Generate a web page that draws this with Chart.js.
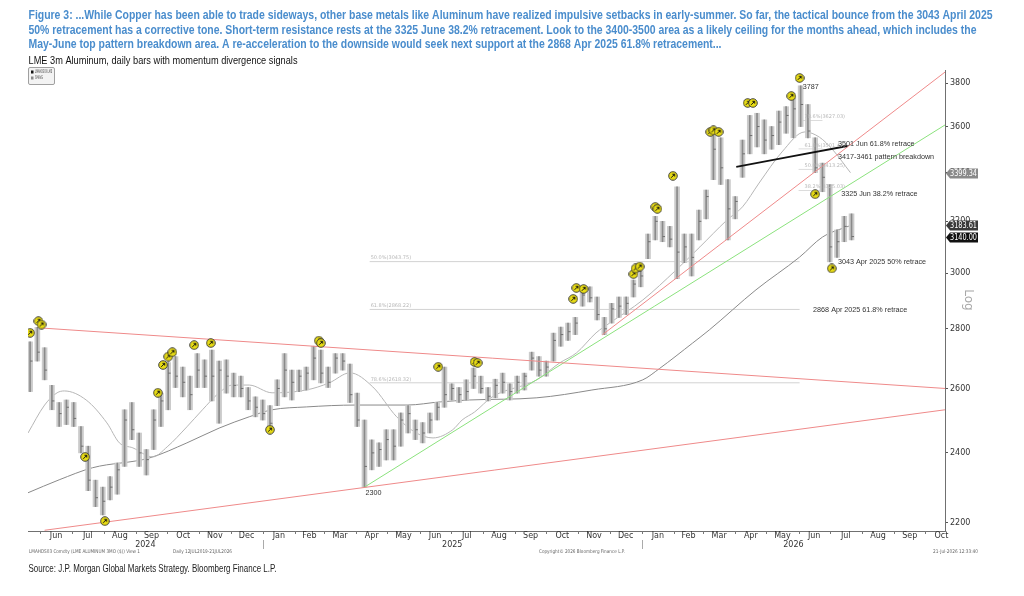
<!DOCTYPE html>
<html>
<head>
<meta charset="utf-8">
<script src="https://cdn.jsdelivr.net/npm/chart.js@4.4.1/dist/chart.umd.min.js"></script>
<style>
  html, body { margin: 0; padding: 0; background: #fff; overflow: hidden; }
  #wrap { position: relative; width: 1024px; height: 596px; }
</style>
</head>
<body>
<div id="wrap"><canvas id="chart"></canvas></div>
<script>
// weekly bars (week starting Monday)
const weekStarts = [
  '2024-05-20','2024-05-27','2024-06-03','2024-06-10','2024-06-17','2024-06-24','2024-07-01','2024-07-08','2024-07-15','2024-07-22',
  '2024-07-29','2024-08-05','2024-08-12','2024-08-19','2024-08-26','2024-09-02','2024-09-09','2024-09-16','2024-09-23','2024-09-30',
  '2024-10-07','2024-10-14','2024-10-21','2024-10-28','2024-11-04','2024-11-11','2024-11-18','2024-11-25','2024-12-02','2024-12-09',
  '2024-12-16','2024-12-23','2024-12-30','2025-01-06','2025-01-13','2025-01-20','2025-01-27','2025-02-03','2025-02-10','2025-02-17',
  '2025-02-24','2025-03-03','2025-03-10','2025-03-17','2025-03-24','2025-03-31','2025-04-07','2025-04-14','2025-04-21','2025-04-28',
  '2025-05-05','2025-05-12','2025-05-19','2025-05-26','2025-06-02','2025-06-09','2025-06-16','2025-06-23','2025-06-30','2025-07-07',
  '2025-07-14','2025-07-21','2025-07-28','2025-08-04','2025-08-11','2025-08-18','2025-08-25','2025-09-01','2025-09-08','2025-09-15',
  '2025-09-22','2025-09-29','2025-10-06','2025-10-13','2025-10-20','2025-10-27','2025-11-03','2025-11-10','2025-11-17','2025-11-24',
  '2025-12-01','2025-12-08','2025-12-15','2025-12-22','2025-12-29','2026-01-05','2026-01-12','2026-01-19','2026-01-26','2026-02-02',
  '2026-02-09','2026-02-16','2026-02-23','2026-03-02','2026-03-09','2026-03-16','2026-03-23','2026-03-30','2026-04-06','2026-04-13',
  '2026-04-20','2026-04-27','2026-05-04','2026-05-11','2026-05-18','2026-05-25','2026-06-01','2026-06-08','2026-06-15','2026-06-22',
  '2026-06-29','2026-07-06','2026-07-13','2026-07-20'
];
const highs = [
  2755,2805,2735,2610,2555,2563,2555,2480,2420,2320,
  2300,2330,2370,2532,2555,2460,2410,2532,2585,2685,
  2705,2670,2640,2715,2694,2727,2690,2694,2650,2640,
  2603,2573,2563,2545,2628,2715,2660,2660,2670,2740,
  2727,2670,2715,2715,2680,2585,2500,2439,2430,2470,
  2470,2522,2545,2500,2492,2522,2555,2670,2615,2603,
  2628,2667,2640,2603,2630,2650,2615,2640,2650,2720,
  2705,2690,2785,2806,2820,2840,2950,2950,2913,2840,
  2890,2913,2913,2975,3010,3150,3220,3200,3180,3340,
  3150,3150,3245,3327,3570,3550,3370,3300,3540,3650,
  3660,3630,3600,3670,3690,3740,3787,3700,3550,3440,
  3350,3166,3220,3230
];
const lows = [
  2590,2690,2628,2532,2480,2486,2480,2400,2290,2245,
  2222,2264,2280,2360,2440,2360,2335,2410,2480,2532,
  2603,2573,2532,2603,2603,2560,2490,2585,2573,2573,
  2532,2510,2500,2470,2545,2573,2563,2590,2595,2628,
  2618,2603,2650,2660,2555,2480,2300,2350,2360,2379,
  2379,2420,2460,2440,2430,2460,2500,2540,2563,2555,
  2563,2600,2585,2560,2570,2585,2563,2585,2595,2660,
  2640,2640,2690,2740,2760,2780,2880,2895,2831,2780,
  2820,2840,2850,2913,2950,3055,3127,3120,3100,2980,
  3040,2990,3127,3210,3370,3350,3127,3210,3380,3480,
  3510,3480,3500,3520,3570,3550,3600,3550,3400,3320,
  3043,3060,3120,3127
];
const closes = [
  2690,2720,2660,2560,2520,2540,2505,2420,2320,2270,
  2260,2300,2350,2500,2470,2400,2380,2500,2560,2650,
  2640,2620,2580,2660,2640,2640,2660,2640,2610,2600,
  2560,2540,2520,2490,2600,2660,2620,2640,2650,2700,
  2650,2620,2700,2690,2580,2500,2360,2400,2410,2440,
  2420,2500,2520,2470,2460,2500,2540,2580,2600,2580,
  2590,2640,2600,2575,2610,2620,2590,2620,2640,2700,
  2660,2670,2760,2780,2790,2820,2920,2910,2850,2800,
  2870,2880,2890,2960,2990,3120,3200,3140,3130,3080,
  3100,3060,3200,3300,3500,3420,3250,3280,3480,3560,
  3600,3540,3560,3620,3650,3680,3700,3580,3420,3380,
  3100,3120,3180,3140.00
];

// moving averages (light = 50d, dark = 200d)
const sma50Dates = [
  '2024-05-20','2024-06-05','2024-06-17','2024-06-24','2024-07-15','2024-08-04','2024-08-16','2024-08-29','2024-09-17','2024-10-01',
  '2024-10-20','2024-11-04','2024-11-20','2024-12-03','2024-12-19','2025-01-10','2025-02-12','2025-03-06','2025-03-26','2025-04-17',
  '2025-05-10','2025-05-29','2025-06-14','2025-07-03','2025-07-12','2025-07-24','2025-08-10','2025-09-22','2025-10-14','2025-10-30',
  '2025-11-18','2025-12-01','2026-01-02','2026-02-03','2026-02-26','2026-03-24','2026-04-08','2026-04-24','2026-05-16','2026-06-07',
  '2026-06-21','2026-07-04','2026-07-21'
];
const sma50Values = [
  2460,2547,2586,2592,2563,2491,2430,2415,2388,2418,
  2479,2532,2586,2611,2611,2586,2595,2618,2651,2605,
  2510,2460,2445,2470,2500,2525,2573,2628,2684,2717,
  2786,2820,2902,3012,3100,3205,3258,3356,3488,3576,
  3553,3497,3399.34
];
const sma200Dates = [
  '2024-05-20','2024-06-19','2024-07-21','2024-09-14','2024-10-20','2024-11-20','2024-12-19','2025-01-10','2025-02-12','2025-04-01',
  '2025-05-20','2025-06-21','2025-07-19','2025-09-22','2025-11-14','2026-01-02','2026-01-18','2026-02-19','2026-03-07','2026-04-21',
  '2026-06-02','2026-06-24','2026-07-21'
];
const sma200Values = [
  2284,2321,2356,2385,2430,2475,2510,2532,2541,2547,
  2547,2557,2563,2570,2595,2628,2665,2751,2796,2939,
  3061,3138,3183.61
];

// momentum divergence signals
const markerDates = [
  '2024-05-22','2024-05-30','2024-06-02','2024-07-14','2024-08-02','2024-09-22','2024-09-27','2024-10-02','2024-10-06','2024-10-27',
  '2024-11-12','2025-01-08','2025-02-24','2025-02-26','2025-06-19','2025-07-24','2025-07-27','2025-10-27','2025-10-30','2025-11-06',
  '2025-12-24','2025-12-26','2025-12-30','2026-01-14','2026-01-16','2026-01-31','2026-03-08','2026-03-11','2026-03-16','2026-04-13',
  '2026-04-18','2026-05-25','2026-06-02','2026-06-17','2026-07-03'
];
const markerPrices = [
  2786,2827,2815,2388,2205,2586,2677,2705,2720,2744,
  2751,2470,2759,2751,2671,2687,2684,2906,2946,2942,
  2997,3018,3025,3258,3250,3386,3576,3583,3576,3707,
  3707,3739,3824,3310,3018
];

// trend lines
const supportDates = ['2024-06-05', '2026-10-20'];
const supportPrices = [2180, 2532];
const resistDates = ['2024-06-01', '2026-10-20'];
const resistPrices = [2803, 2600];
const steepDates = ['2025-11-24', '2026-10-20'];
const steepPrices = [2779, 3852];
const greenDates = ['2025-04-09', '2026-10-20'];
const greenPrices = [2300, 3607];
const neckDates = ['2026-04-02', '2026-07-18'];
const neckPrices = [3424, 3514];

// fibonacci retracements
const fibLowDates = ['2025-04-14', '2026-06-02'];
const fibLowLevels = [3043.75, 2868.22, 2618.32];
const fibLowLabels = ['50.0%(3043.75)', '61.8%(2868.22)', '78.6%(2618.32)'];
const fibHighDates = ['2026-06-01', '2026-06-24'];
const fibHighLevels = [3627.03, 3501.47, 3413.25, 3325.03];
const fibHighLabels = ['78.6%(3627.03)', '61.8%(3501.47)', '50.0%(3413.25)', '38.2%(3325.03)'];

// text notes on the chart
const noteTexts = ['3787', '3501 Jun 61.8% retrace', '3417-3461 pattern breakdown', '3325 Jun 38.2% retrace',
  '3043 Apr 2025 50% retrace', '2868 Apr 2025 61.8% retrace', '2300'];
const noteDates = ['2026-06-05', '2026-07-09', '2026-07-09', '2026-07-12', '2026-07-09', '2026-06-15', '2025-04-10'];
const notePrices = [3781, 3523, 3467, 3310, 3043, 2868, 2284];

// axes
const monthStarts = [
  '2024-06-01','2024-07-01','2024-08-01','2024-09-01','2024-10-01','2024-11-01','2024-12-01',
  '2025-01-01','2025-02-01','2025-03-01','2025-04-01','2025-05-01','2025-06-01','2025-07-01','2025-08-01','2025-09-01','2025-10-01','2025-11-01','2025-12-01',
  '2026-01-01','2026-02-01','2026-03-01','2026-04-01','2026-05-01','2026-06-01','2026-07-01','2026-08-01','2026-09-01','2026-10-01','2026-11-01'
];
const monthLabels = ['Jun','Jul','Aug','Sep','Oct','Nov','Dec','Jan','Feb','Mar','Apr','May','Jun','Jul','Aug','Sep','Oct','Nov','Dec',
  'Jan','Feb','Mar','Apr','May','Jun','Jul','Aug','Sep','Oct'];
const yearLabels = ['2024', '2025', '2026'];
const yearSplits = ['2025-01-01', '2026-01-01'];
const yTicks = [2200, 2400, 2600, 2800, 3000, 3200, 3400, 3600, 3800];
const xStart = '2024-05-20', xEnd = '2026-10-20';

const dayOf = s => (Date.UTC(+s.slice(0, 4), +s.slice(5, 7) - 1, +s.slice(8, 10)) - Date.UTC(2024, 0, 1)) / 86400000;
const pts = (dates, vals) => dates.map((d, i) => ({ x: dayOf(d), y: vals[i] }));
const monthMids = monthLabels.map((m, i) => (dayOf(monthStarts[i]) + dayOf(monthStarts[i + 1])) / 2);
const barRange = weekStarts.map((d, i) => ({ x: dayOf(d) + 2, y: [lows[i], highs[i]] }));

function makeMarker() {
  const c = document.createElement('canvas');
  c.width = 10; c.height = 10;
  const g = c.getContext('2d');
  g.beginPath(); g.arc(5, 5, 4.3, 0, Math.PI * 2);
  g.fillStyle = '#e8dc14'; g.fill();
  g.lineWidth = 0.9; g.strokeStyle = '#333'; g.stroke();
  g.beginPath();
  g.moveTo(3.2, 6.8); g.lineTo(6.5, 3.5);
  g.moveTo(4.4, 3.3); g.lineTo(6.7, 3.3); g.lineTo(6.7, 5.6);
  g.lineWidth = 1; g.strokeStyle = '#111'; g.stroke();
  return c;
}

function fitText(ctx, text, x, y, w, font, color) {
  ctx.save();
  ctx.font = font; ctx.fillStyle = color;
  ctx.textBaseline = 'middle'; ctx.textAlign = 'left';
  const m = ctx.measureText(text).width;
  ctx.translate(x, y); ctx.scale(w / m, 1);
  ctx.fillText(text, 0, 0);
  ctx.restore();
}

const lineSet = (data, color, width, order) => ({
  type: 'line', data, borderColor: color, borderWidth: width,
  pointRadius: 0, fill: false, order
});

const decor = {
  id: 'decor',
  afterDraw(chart) {
    const ctx = chart.ctx, xs = chart.scales.x, ys = chart.scales.y, a = chart.chartArea;
    ctx.save();

    // title block
    const tf = 'bold 12px "Liberation Sans Narrow", "Liberation Sans", Arial';
    fitText(ctx, 'Figure 3: ...While Copper has been able to trade sideways, other base metals like Aluminum have realized impulsive setbacks in early-summer. So far, the tactical bounce from the 3043 April 2025', 28.5, 15.5, 964, tf, '#4a8dcd');
    fitText(ctx, '50% retracement has a corrective tone. Short-term resistance rests at the 3325 June 38.2% retracement. Look to the 3400-3500 area as a likely ceiling for the months ahead, which includes the', 28.5, 30.5, 948, tf, '#4a8dcd');
    fitText(ctx, 'May-June top pattern breakdown area. A re-acceleration to the downside would seek next support at the 2868 Apr 2025 61.8% retracement...', 28.5, 45, 693, tf, '#4a8dcd');
    fitText(ctx, 'LME 3m Aluminum, daily bars with momentum divergence signals', 28.5, 61.5, 269, '10.5px "Liberation Sans Narrow", "Liberation Sans", Arial', '#111');
    fitText(ctx, 'Source: J.P. Morgan Global Markets Strategy. Bloomberg Finance L.P.', 28.5, 569, 248, '10.5px "Liberation Sans", Arial', '#222');

    // legend box
    ctx.fillStyle = '#f3f3f3'; ctx.strokeStyle = '#a0a0a0'; ctx.lineWidth = 1;
    ctx.beginPath(); ctx.roundRect(28.5, 67.5, 26, 17, 1.5); ctx.fill(); ctx.stroke();
    ctx.fillStyle = '#111'; ctx.fillRect(31, 70.5, 2.5, 3);
    ctx.fillStyle = '#888'; ctx.fillRect(31, 76.5, 2.5, 3);
    fitText(ctx, 'LMAHDS03 LME', 35, 72.2, 17, '5px "DejaVu Sans"', '#444');
    fitText(ctx, 'SMAVG', 35, 78.2, 8, '5px "DejaVu Sans"', '#444');

    // month boundary marks, year split and year labels
    ctx.strokeStyle = '#777'; ctx.lineWidth = 1;
    monthStarts.forEach(d => {
      const px = Math.round(xs.getPixelForValue(dayOf(d))) + 0.5;
      if (px < a.left || px > a.right) return;
      ctx.beginPath(); ctx.moveTo(px, a.bottom); ctx.lineTo(px, a.bottom + 3); ctx.stroke();
    });
    ctx.strokeStyle = '#aaa';
    yearSplits.forEach(d => {
      const px = Math.round(xs.getPixelForValue(dayOf(d))) + 0.5;
      ctx.beginPath(); ctx.moveTo(px, a.bottom + 9); ctx.lineTo(px, a.bottom + 18); ctx.stroke();
    });
    const bounds = [xs.min, ...yearSplits.map(dayOf), xs.max];
    ctx.font = '8px "DejaVu Sans"'; ctx.fillStyle = '#333'; ctx.textAlign = 'center'; ctx.textBaseline = 'middle';
    yearLabels.forEach((y, i) => {
      ctx.fillText(y, xs.getPixelForValue((bounds[i] + bounds[i + 1]) / 2), a.bottom + 14);
    });

    // footer lines
    const ff = '5px "DejaVu Sans"';
    fitText(ctx, 'LMAHDS03 Comdty (LME ALUMINUM 3MO ($)) View 1', 29, 552, 111, ff, '#666');
    fitText(ctx, 'Daily 12JUL2019-21JUL2026', 173, 552, 59, ff, '#666');
    fitText(ctx, 'Copyright\u00A9 2026 Bloomberg Finance L.P.', 539, 552, 86, ff, '#666');
    fitText(ctx, '21-Jul-2026 12:33:40', 933, 552, 45, ff, '#666');

    // fib labels
    ctx.font = '5px "DejaVu Sans"'; ctx.fillStyle = '#b8b8b8'; ctx.textAlign = 'left'; ctx.textBaseline = 'bottom';
    fibLowLevels.forEach((v, i) => ctx.fillText(fibLowLabels[i], xs.getPixelForValue(dayOf(fibLowDates[0])) + 1, ys.getPixelForValue(v) - 1));
    fibHighLevels.forEach((v, i) => ctx.fillText(fibHighLabels[i], xs.getPixelForValue(dayOf(fibHighDates[0])) + 6, ys.getPixelForValue(v) - 1));

    // notes
    ctx.textBaseline = 'middle';
    noteTexts.forEach((t, i) => {
      ctx.save();
      ctx.font = '8px "Liberation Sans", Arial'; ctx.fillStyle = '#333';
      ctx.translate(xs.getPixelForValue(dayOf(noteDates[i])), ys.getPixelForValue(notePrices[i]));
      ctx.scale(0.9, 1);
      ctx.fillText(t, 0, 0);
      ctx.restore();
    });

    // last value tags on the right axis
    const tag = (v, fill) => {
      const py = Math.round(ys.getPixelForValue(v)) + 0.5, x0 = a.right + 1;
      ctx.beginPath();
      ctx.moveTo(x0, py); ctx.lineTo(x0 + 4, py - 5); ctx.lineTo(x0 + 32, py - 5);
      ctx.lineTo(x0 + 32, py + 5); ctx.lineTo(x0 + 4, py + 5); ctx.closePath();
      ctx.fillStyle = fill; ctx.fill();
      fitText(ctx, v.toFixed(2), x0 + 4, py + 0.5, 27, '8px "DejaVu Sans"', '#fff');
    };
    tag(sma50Values[sma50Values.length - 1], '#8a8a8a');
    tag(sma200Values[sma200Values.length - 1], '#3a3a3a');
    tag(closes[closes.length - 1], '#111');

    // Log label
    ctx.save();
    ctx.translate(968, 300); ctx.rotate(Math.PI / 2);
    ctx.font = '12px "DejaVu Sans"'; ctx.fillStyle = '#a8a8a8'; ctx.textAlign = 'center'; ctx.textBaseline = 'middle';
    ctx.fillText('Log', 0, 0);
    ctx.restore();

    ctx.restore();
  }
};

new Chart(document.getElementById('chart'), {
  type: 'bar',
  data: {
    datasets: [
      // light body of each week's range, then a darker stem
      { type: 'bar', data: barRange, backgroundColor: '#cbcbcb', borderWidth: 0, barThickness: 5, grouped: false, order: 7 },
      { type: 'bar', data: barRange, backgroundColor: '#8a8a8a', borderWidth: 0, barThickness: 1, grouped: false, order: 6 },
      { type: 'scatter', data: weekStarts.map((d, i) => ({ x: dayOf(d) + 2, y: closes[i] })),
        pointStyle: 'dash', pointRadius: 2.5, borderColor: '#6f6f6f', borderWidth: 1, order: 5 },
      lineSet(pts(sma50Dates, sma50Values), '#b6b6b6', 1, 8),
      lineSet(pts(sma200Dates, sma200Values), '#8a8a8a', 1, 8),
      ...fibLowLevels.map(v => lineSet(pts(fibLowDates, [v, v]), '#d2d2d2', 1, 10)),
      ...fibHighLevels.map(v => lineSet(pts(fibHighDates, [v, v]), '#dcdcdc', 1, 10)),
      lineSet(pts(supportDates, supportPrices), '#ef8a8a', 1, 4),
      lineSet(pts(resistDates, resistPrices), '#ef8a8a', 1, 4),
      lineSet(pts(steepDates, steepPrices), '#ef8a8a', 1, 4),
      lineSet(pts(greenDates, greenPrices), '#8be27d', 1, 4),
      lineSet(pts(neckDates, neckPrices), '#111', 1.8, 3),
      { type: 'scatter', data: pts(markerDates, markerPrices), pointStyle: makeMarker(), order: 1 }
    ]
  },
  options: {
    responsive: true,
    maintainAspectRatio: false,
    animation: false,
    events: [],
    layout: { padding: { left: 28, top: 70, right: 0, bottom: 0 } },
    plugins: { legend: { display: false }, tooltip: { enabled: false } },
    elements: { line: { cubicInterpolationMode: 'monotone' } },
    scales: {
      x: {
        type: 'linear', offset: false,
        min: dayOf(xStart), max: dayOf(xEnd),
        afterFit(s) { s.height = 65; },
        afterBuildTicks(s) { s.ticks = monthMids.map(v => ({ value: v })); },
        ticks: { autoSkip: false, maxRotation: 0, padding: 0, color: '#333',
          font: { family: 'DejaVu Sans', size: 8 }, callback: (v, i) => monthLabels[i] },
        grid: { display: false, drawTicks: false, offset: false },
        border: { display: true, color: '#707070' }
      },
      y: {
        type: 'logarithmic', position: 'right',
        min: 2178, max: 3862,
        afterFit(s) { s.width = 79; },
        afterBuildTicks(s) { s.ticks = yTicks.map(v => ({ value: v })); },
        ticks: { padding: 2, color: '#333', font: { family: 'DejaVu Sans', size: 8 }, callback: v => String(v) },
        grid: { drawOnChartArea: false, tickLength: 3, color: '#555' },
        border: { display: true, color: '#707070' }
      }
    }
  },
  plugins: [decor]
});
</script>
</body>
</html>
